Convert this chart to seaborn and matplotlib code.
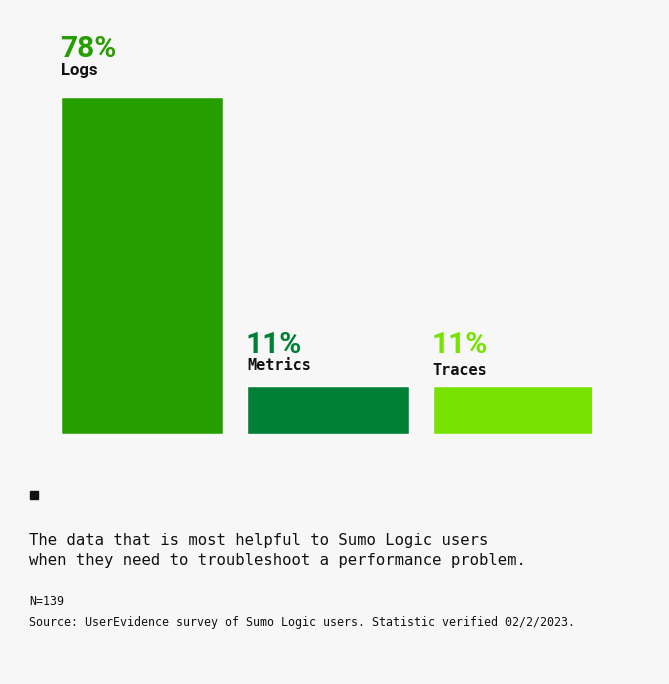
import matplotlib
matplotlib.use("Agg")
import matplotlib.pyplot as plt
from matplotlib.patches import Rectangle
import pandas as pd
import seaborn as sns

# data
sources = ["Logs", "Metrics", "Traces"]
percents = [78, 11, 11]
bar_colors = ["#279e00", "#007f36", "#77e200"]

W, H = 669, 684
BG = "#f7f7f7"
INK = "#111111"

sns.set_theme(style="white")
plt.rcParams["font.family"] = ["Roboto", "DejaVu Sans"]

df = pd.DataFrame({"source": sources, "pct": percents})

fig = plt.figure(figsize=(W / 100, H / 100), dpi=100, facecolor=BG)
ax = fig.add_axes([60 / W, 1 - 434 / H, (592 - 60) / W, (434 - 97) / H])
ax.set_facecolor(BG)

sns.barplot(
    data=df, x="source", y="pct", hue="source", palette=bar_colors,
    order=sources, hue_order=sources, width=0.87, saturation=1,
    legend=False, ax=ax,
)
ax.set_xlim(-0.4415, 2.4226)
ax.set_ylim(0, 78)
ax.axis("off")

# labels above bars: percent then category name
label_fonts = [
    dict(family=["Roboto", "DejaVu Sans"], weight="bold", fontsize=12),
    dict(family="DejaVu Sans Mono", weight="bold", fontsize=11),
    dict(family="DejaVu Sans Mono", weight="bold", fontsize=11),
]
pct_pad = [29, 24, 24]
name_pad = [16, 12, 8]
for patch, name, pct, col, font, pp, npad in zip(ax.patches, sources, percents,
                                                  bar_colors, label_fonts,
                                                  pct_pad, name_pad):
    x0 = patch.get_x()
    top = patch.get_height()
    ax.annotate(f"{pct}%", (x0, top), xytext=(-1, pp), textcoords="offset points",
                ha="left", va="baseline", fontsize=21.5, fontweight="bold",
                color=col, annotation_clip=False)
    ax.annotate(name, (x0, top), xytext=(0, npad), textcoords="offset points",
                ha="left", va="baseline", color=INK,
                annotation_clip=False, **font)

# small square marker
fig.patches.append(Rectangle((30 / W, 1 - 499 / H), 8 / W, 8 / H,
                             transform=fig.transFigure, color=INK))

mono = "DejaVu Sans Mono"
fig.text(29 / W, 1 - 545 / H, "The data that is most helpful to Sumo Logic users",
         family=mono, fontsize=11.25, color=INK, va="baseline")
fig.text(29 / W, 1 - 565 / H, "when they need to troubleshoot a performance problem.",
         family=mono, fontsize=11.25, color=INK, va="baseline")
fig.text(29 / W, 1 - 605 / H, "N=139", family=mono, fontsize=8.4, color=INK,
         va="baseline")
fig.text(29 / W, 1 - 626 / H,
         "Source: UserEvidence survey of Sumo Logic users. Statistic verified 02/2/2023.",
         family=mono, fontsize=8.4, color=INK, va="baseline")

fig.savefig("out.png", dpi=100, facecolor=BG)
